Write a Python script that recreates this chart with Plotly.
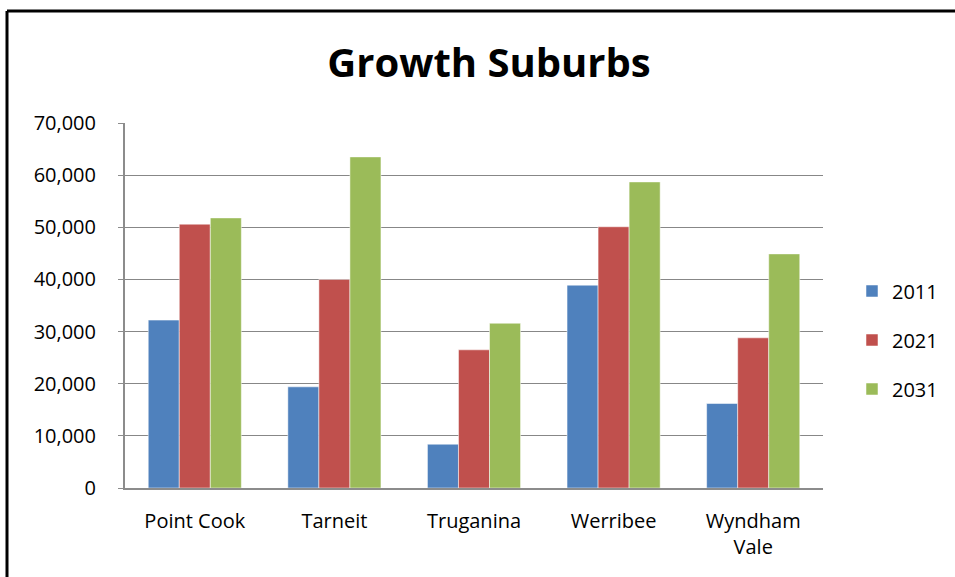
import plotly.graph_objects as go

categories = ["Point Cook", "Tarneit", "Truganina", "Werribee", "Wyndham<br>Vale"]
years = ["2011", "2021", "2031"]
values_2011 = [32200, 19400, 8400, 38900, 16200]
values_2021 = [50600, 40000, 26500, 50100, 28800]
values_2031 = [51800, 63500, 31600, 58700, 44900]
colors = ["#4F81BD", "#C0504D", "#9BBB59"]
tick_vals = [0, 10000, 20000, 30000, 40000, 50000, 60000, 70000]

W, H = 955, 577
L, R, T, B = 125, 823, 123, 488

fig = go.Figure()
for i, (name, vals) in enumerate(zip(years, [values_2011, values_2021, values_2031])):
    fig.add_trace(go.Bar(
        x=categories, y=vals, name=name,
        marker=dict(color=colors[i], line=dict(color="rgba(255,255,255,0.5)", width=1)),
        legendgroup=name,
    ))

def px_x(p):
    return (p - L) / (R - L)

def px_y(p):
    return (B - p) / (B - T)

font_family = "Open Sans, Noto Sans, sans-serif"

fig.update_layout(
    width=W, height=H,
    margin=dict(l=L, r=W - R, t=T, b=H - B, pad=0, autoexpand=False),
    paper_bgcolor="white", plot_bgcolor="white",
    barmode="group", bargap=0.333, bargroupgap=0,
    font=dict(family=font_family, size=20, color="black"),
    title=dict(text="<b>Growth Suburbs</b>", font=dict(size=40, family=font_family, color="black"),
               x=489 / W, xanchor="center", y=1 - 63 / H, yanchor="middle", xref="container", yref="container"),
    showlegend=True,
    legend=dict(x=px_x(852), xanchor="left", y=px_y(340), yanchor="middle",
                font=dict(size=20), tracegroupgap=20, itemwidth=30,
                bgcolor="rgba(0,0,0,0)"),
    xaxis=dict(showgrid=False, showline=True, linecolor="#8C8C8C", linewidth=2, automargin=False,
               ticks="", tickfont=dict(size=20), ticklabelstandoff=14),
    yaxis=dict(range=[0, 70000], tickvals=tick_vals, tickformat=",d", automargin=False,
               showgrid=True, gridcolor="#878787", gridwidth=1.3,
               showline=True, linecolor="#8C8C8C", linewidth=2,
               ticks="outside", ticklen=5, tickcolor="#8C8C8C", tickwidth=1.3,
               tickfont=dict(size=20), ticklabelstandoff=18, zeroline=False),
    shapes=[
        dict(type="line", xref="paper", yref="paper",
             x0=px_x(7), y0=px_y(H + 10), x1=px_x(7), y1=px_y(11),
             line=dict(color="black", width=3)),
        dict(type="line", xref="paper", yref="paper",
             x0=px_x(7), y0=px_y(11), x1=px_x(W + 10), y1=px_y(11),
             line=dict(color="black", width=3)),
    ],
)

fig.write_html("out.html", config={"displayModeBar": False},
               post_script="document.body.style.margin='0px';document.body.style.overflow='hidden';")
